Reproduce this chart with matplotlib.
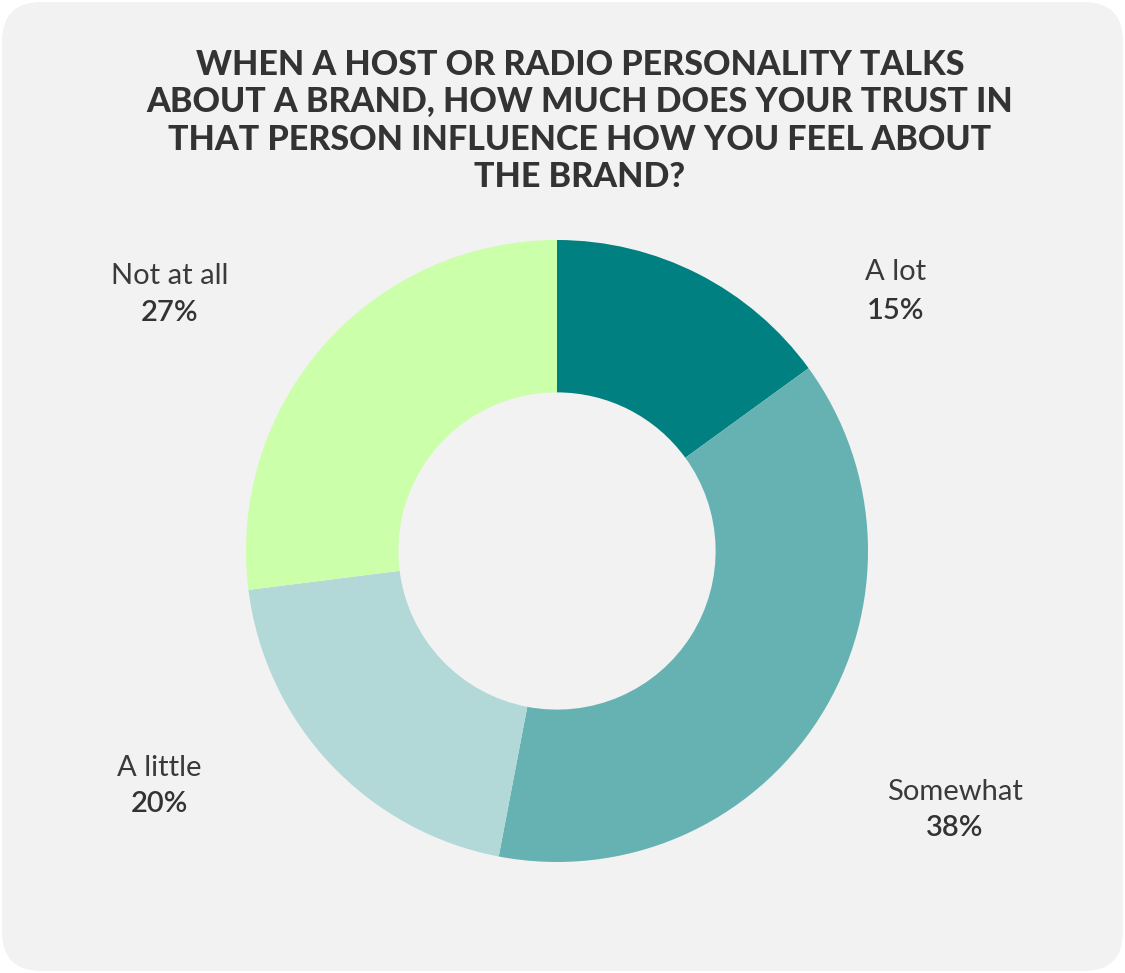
import matplotlib.pyplot as plt
from matplotlib.patches import FancyBboxPatch

labels = ['A lot', 'Somewhat', 'A little', 'Not at all']
shares = [15, 38, 20, 27]
colors = ['#008080', '#66b2b2', '#b2d8d8', '#ccffaa']
title = ('WHEN A HOST OR RADIO PERSONALITY TALKS\n'
         'ABOUT A BRAND, HOW MUCH DOES YOUR TRUST IN\n'
         'THAT PERSON INFLUENCE HOW YOU FEEL ABOUT\n'
         'THE BRAND?')

W, H = 1125, 973
fig = plt.figure(figsize=(W / 100, H / 100), dpi=100)
fig.patch.set_facecolor('white')

# rounded card behind everything
card = FancyBboxPatch((2 / W, 2 / H), 1 - 4 / W, 1 - 4 / H,
                      boxstyle='round,pad=0,rounding_size=0.035',
                      transform=fig.transFigure, facecolor='#f2f2f2',
                      edgecolor='none', zorder=-1, mutation_aspect=W / H)
fig.patches.append(card)

fig.text(580 / W, 1 - 121 / H, title, ha='center', va='center',
         fontsize=24.5, fontweight='black', family='Lato', color='#333333',
         linespacing=1.21)

# donut: centre (557, 551) px, outer radius 311 px
cx, cy, r = 557, 551, 311
ax = fig.add_axes([(cx - r) / W, (H - cy - r) / H, 2 * r / W, 2 * r / H])
ax.set_zorder(1)
ax.pie(shares, colors=colors, startangle=90, counterclock=False, radius=1,
       wedgeprops=dict(width=0.49, edgecolor='none'))
ax.set_xlim(-1, 1)
ax.set_ylim(-1, 1)
ax.axis('off')

label_pos = [(896, 272, 311), (955, 792, 828), (159, 768, 804), (170, 276, 313)]
for name, val, (x, y1, y2) in zip(labels, shares, label_pos):
    fig.text(x / W, 1 - y1 / H, name, ha='center', va='center',
             fontsize=21, fontweight='normal', family='Lato', color='#3a3a3a')
    fig.text(x / W, 1 - y2 / H, f'{val}%', ha='center', va='center',
             fontsize=21, fontweight='semibold', family='Lato', color='#333333')

fig.savefig('out.png', dpi=100, facecolor=fig.get_facecolor())
